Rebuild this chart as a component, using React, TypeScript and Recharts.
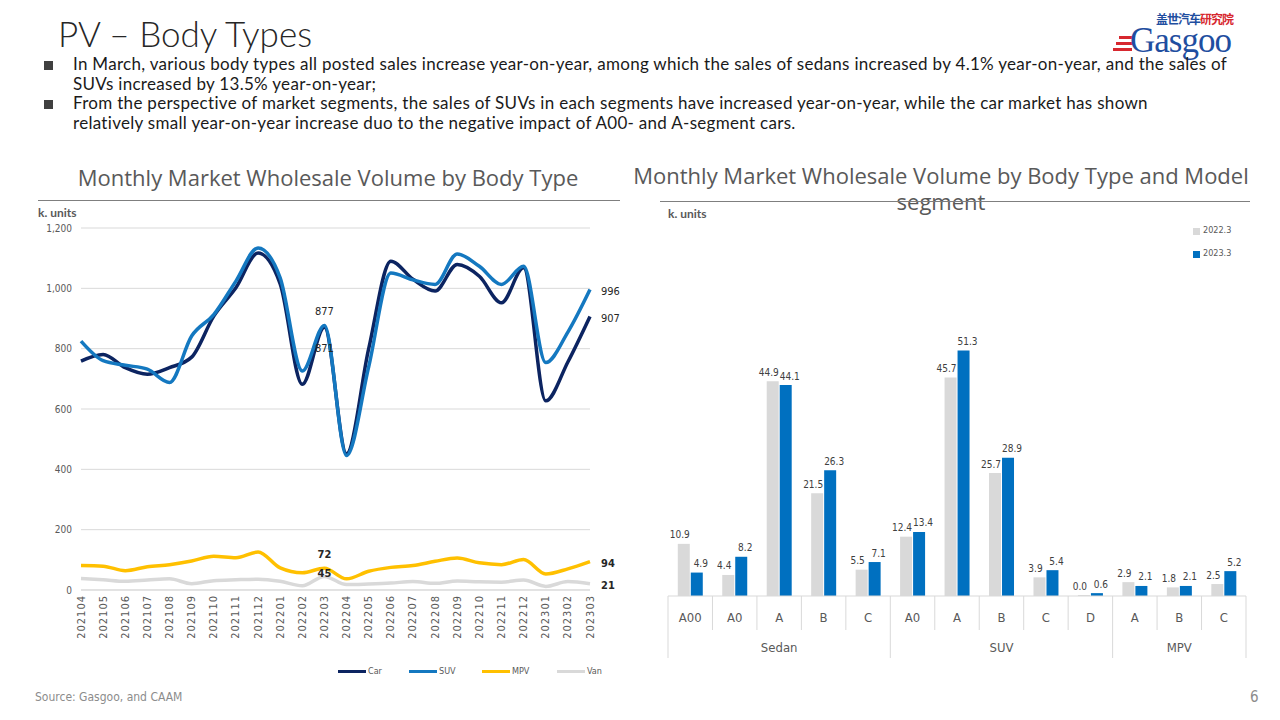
import React from "react";
import {
  LineChart,
  Line,
  BarChart,
  Bar,
  XAxis,
  YAxis,
  CartesianGrid,
  LabelList,
} from "recharts";

// ---- monthly wholesale volume (k units) ----
const months = [
  "202104", "202105", "202106", "202107", "202108", "202109", "202110", "202111",
  "202112", "202201", "202202", "202203", "202204", "202205", "202206", "202207",
  "202208", "202209", "202210", "202211", "202212", "202301", "202302", "202303",
];
const carVolume = [759, 781, 737, 715, 737, 772, 908, 1002, 1117, 1015, 682, 871, 452, 800, 1090, 1030, 991, 1079, 1040, 952, 1068, 627, 756, 907];
const suvVolume = [825, 760, 745, 732, 688, 842, 913, 1024, 1134, 1035, 726, 877, 446, 740, 1051, 1028, 1013, 1114, 1073, 1013, 1073, 754, 855, 996];
const mpvVolume = [81, 79, 64, 77, 84, 96, 112, 107, 126, 73, 57, 72, 37, 62, 75, 81, 95, 106, 90, 84, 101, 53, 70, 94];
const vanVolume = [38, 34, 29, 33, 37, 21, 31, 34, 36, 29, 14, 45, 18, 20, 23, 28, 22, 30, 27, 26, 33, 12, 28, 21];
const volumeTicks = [0, 200, 400, 600, 800, 1000, 1200];

// ---- body type x model segment (k units) ----
const segments = ["A00", "A0", "A", "B", "C", "A0", "A", "B", "C", "D", "A", "B", "C"];
const bodyGroups = ["Sedan", "Sedan", "Sedan", "Sedan", "Sedan", "SUV", "SUV", "SUV", "SUV", "SUV", "MPV", "MPV", "MPV"];
const march2022 = [10.9, 4.4, 44.9, 21.5, 5.5, 12.4, 45.7, 25.7, 3.9, 0.0, 2.9, 1.8, 2.5];
const march2023 = [4.9, 8.2, 44.1, 26.3, 7.1, 13.4, 51.3, 28.9, 5.4, 0.6, 2.1, 2.1, 5.2];

const CAR = "#0c2461";
const SUV = "#1478c0";
const MPV = "#ffc000";
const VAN = "#d9d9d9";
const GRAY22 = "#d9d9d9";
const BLUE23 = "#0070c0";

const narrow = "'Liberation Sans Narrow', 'DejaVu Sans Condensed', Lato, sans-serif";
const textGray = "#595959";

const lineData = months.map((m, i) => ({
  month: m,
  car: carVolume[i],
  suv: suvVolume[i],
  mpv: mpvVolume[i],
  van: vanVolume[i],
}));

const barData = segments.map((s, i) => ({
  key: `${bodyGroups[i]}-${s}`,
  y2022: march2022[i],
  y2023: march2023[i],
}));

const groupMiddle = new Set<number>();
const groupStart = new Set<number>();
bodyGroups.forEach((g, i) => {
  if (i === 0 || bodyGroups[i - 1] !== g) groupStart.add(i);
});
[...new Set(bodyGroups)].forEach((g) => {
  const idx = bodyGroups.map((b, i) => (b === g ? i : -1)).filter((i) => i >= 0);
  groupMiddle.add(idx[Math.floor(idx.length / 2)]);
});

const MonthTick = ({ x, y, payload }: any) => (
  <text
    x={x}
    y={y + 5}
    transform={`rotate(-90 ${x} ${y + 5})`}
    textAnchor="end"
    dominantBaseline="central"
    fontSize={11}
    letterSpacing={1}
    fill={textGray}
    fontFamily={narrow}
  >
    {payload.value}
  </text>
);

// point labels only at chosen months
const pointLabel =
  (indexes: number[], place: "above" | "below" | "right" | "on", bold = false) =>
  (props: any) => {
    const { index, value } = props;
    if (!indexes.includes(index)) return null;
    const x = props.x ?? props.viewBox?.x;
    const y = props.y ?? props.viewBox?.y;
    let tx = x;
    let ty = y;
    let anchor: "middle" | "start" = "middle";
    if (place === "above") ty = y - 14;
    if (place === "below") ty = y + 21;
    if (place === "on") ty = y - 3;
    if (place === "right") {
      tx = x + 11;
      ty = y + 2;
      anchor = "start";
    }
    return (
      <text
        x={tx}
        y={ty}
        textAnchor={anchor}
        dominantBaseline="central"
        fontSize={11}
        fontWeight={bold ? 700 : 400}
        fill="#262626"
        fontFamily={narrow}
      >
        {value}
      </text>
    );
  };

// bar value labels, nudged sideways like the original
const barLabel = (dx: number) => (props: any) => {
  const { x, y, width, value } = props;
  return (
    <text
      x={x + width / 2 + dx}
      y={y - 9}
      textAnchor="middle"
      dominantBaseline="central"
      fontSize={10}
      fill="#404040"
      fontFamily={narrow}
    >
      {Number(value).toFixed(1)}
    </text>
  );
};

const barW = 620;
const barMargin = { top: 104, right: 14, bottom: 9, left: 28 };
const band = (barW - barMargin.left - barMargin.right) / segments.length;

const SegmentTick = ({ x, y, payload }: any) => {
  const i = payload.index;
  const left = x - band / 2;
  const full = 62;
  return (
    <g fontFamily={narrow} fill={textGray} fontSize={13}>
      <line x1={left} x2={left} y1={y} y2={y + (groupStart.has(i) ? full : 34)} stroke={GRAY22} />
      {i === segments.length - 1 && (
        <line x1={x + band / 2} x2={x + band / 2} y1={y} y2={y + full} stroke={GRAY22} />
      )}
      <text x={x} y={y + 21} textAnchor="middle" dominantBaseline="central">
        {segments[i]}
      </text>
      {groupMiddle.has(i) && (
        <text x={x} y={y + 51} textAnchor="middle" dominantBaseline="central">
          {bodyGroups[i]}
        </text>
      )}
    </g>
  );
};

const abs = (left: number, top: number, extra: React.CSSProperties = {}): React.CSSProperties => ({
  position: "absolute",
  left,
  top,
  whiteSpace: "nowrap",
  ...extra,
});

const bullets = [
  [
    "In March, various body types all posted sales increase year-on-year, among which the sales of sedans increased by 4.1% year-on-year, and the sales of",
    "SUVs increased by 13.5% year-on-year;",
  ],
  [
    "From the perspective of market segments,  the sales of SUVs in each segments have increased year-on-year,  while  the car market has shown",
    "relatively small year-on-year increase duo to the negative impact of A00- and A-segment cars.",
  ],
];

const lineLegend = [
  { name: "Car", color: CAR, left: 338 },
  { name: "SUV", color: SUV, left: 409 },
  { name: "MPV", color: MPV, left: 482 },
  { name: "Van", color: VAN, left: 557 },
];

export default function App() {
  return (
    <div
      style={{
        position: "absolute",
        left: 0,
        top: 0,
        width: 1280,
        height: 720,
        background: "#fff",
        overflow: "hidden",
        fontFamily: "Lato, sans-serif",
        color: "#262626",
      }}
    >
      {/* header */}
      <div style={abs(58, 12, { fontSize: 35, fontWeight: 300, color: "#262626" })}>PV – Body Types</div>

      <div style={abs(1156, 12, { fontSize: 12, fontWeight: 700, fontFamily: "'Noto Sans CJK SC', sans-serif", letterSpacing: -1, lineHeight: "14px" })}>
        <span style={{ color: "#1f4ea0" }}>盖世汽车</span>
        <span style={{ color: "#d7282f" }}>研究院</span>
      </div>
      <div style={abs(1119, 36, { width: 15, height: 3, background: "#d7282f" })} />
      <div style={abs(1116, 42, { width: 17, height: 3, background: "#d7282f" })} />
      <div style={abs(1113, 48, { width: 19, height: 3, background: "#d7282f" })} />
      <div style={abs(1130, 28, { fontSize: 35, lineHeight: "26px", fontFamily: "'Liberation Serif', serif", color: "#1f4ea0", letterSpacing: -1 })}>
        Gasgoo
      </div>

      {bullets.map((lines, b) =>
        lines.map((t, l) => {
          const top = 57 + b * 39 + l * 20;
          return (
            <React.Fragment key={`${b}-${l}`}>
              {l === 0 && <div style={abs(44, top + 4, { width: 9, height: 9, background: "#404040" })} />}
              <div style={abs(73, top - 3, { fontSize: 17, letterSpacing: 0.3, lineHeight: "20px", color: "#1a1a1a" })}>{t}</div>
            </React.Fragment>
          );
        }),
      )}

      {/* left chart frame */}
      <div style={abs(28, 162, { width: 600, textAlign: "center", fontSize: 22, fontFamily: "'Open Sans', sans-serif", color: textGray })}>
        Monthly Market Wholesale Volume by Body Type
      </div>
      <div style={abs(38, 200, { width: 582, height: 1, background: "#7f7f7f" })} />
      <div style={abs(38, 205, { fontSize: 12, fontWeight: 700, color: textGray })}>k. units</div>

      <div style={abs(20, 210)}>
        <LineChart width={600} height={450} data={lineData} margin={{ top: 18, right: 30, bottom: 15, left: 0 }}>
          <CartesianGrid vertical={false} stroke="#d9d9d9" />
          <XAxis
            dataKey="month"
            interval={0}
            tick={<MonthTick />}
            tickLine={false}
            tickSize={0}
            tickMargin={0}
            height={55}
            axisLine={{ stroke: "#d9d9d9" }}
          />
          <YAxis
            width={61}
            domain={[0, 1200]}
            ticks={volumeTicks}
            axisLine={false}
            tickLine={false}
            tickMargin={3}
            tickFormatter={(v: number) => v.toLocaleString("en-US")}
            tick={{ fontSize: 10, fill: textGray, fontFamily: narrow }}
          />
          <Line type="monotone" dataKey="van" stroke={VAN} strokeWidth={3.5} dot={false} isAnimationActive={false}>
            <LabelList dataKey="van" content={pointLabel([11], "on", true)} />
            <LabelList dataKey="van" content={pointLabel([23], "right", true)} />
          </Line>
          <Line type="monotone" dataKey="mpv" stroke={MPV} strokeWidth={3.5} dot={false} isAnimationActive={false}>
            <LabelList dataKey="mpv" content={pointLabel([11], "above", true)} />
            <LabelList dataKey="mpv" content={pointLabel([23], "right", true)} />
          </Line>
          <Line type="monotone" dataKey="car" stroke={CAR} strokeWidth={3.5} dot={false} isAnimationActive={false}>
            <LabelList dataKey="car" content={pointLabel([11], "below")} />
            <LabelList dataKey="car" content={pointLabel([23], "right")} />
          </Line>
          <Line type="monotone" dataKey="suv" stroke={SUV} strokeWidth={3.5} dot={false} isAnimationActive={false}>
            <LabelList dataKey="suv" content={pointLabel([11], "above")} />
            <LabelList dataKey="suv" content={pointLabel([23], "right")} />
          </Line>
        </LineChart>
      </div>

      {lineLegend.map((it) => (
        <div key={it.name} style={abs(it.left, 666, { display: "flex", alignItems: "center", fontSize: 9, color: textGray, fontFamily: narrow })}>
          <span style={{ display: "inline-block", width: 28, height: 3, background: it.color, marginRight: 2 }} />
          {it.name}
        </div>
      ))}

      {/* right chart frame */}
      <div style={abs(621, 162, { width: 640, textAlign: "center", fontSize: 22, lineHeight: "26px", fontFamily: "'Open Sans', sans-serif", color: textGray, whiteSpace: "normal" })}>
        Monthly Market Wholesale Volume by Body Type and Model segment
      </div>
      <div style={abs(660, 201, { width: 590, height: 1, background: "#7f7f7f" })} />
      <div style={abs(668, 206, { fontSize: 12, fontWeight: 700, color: textGray })}>k. units</div>

      <div style={abs(1193, 228, { width: 7, height: 7, background: GRAY22 })} />
      <div style={abs(1203, 225, { fontSize: 9, color: textGray, fontFamily: narrow })}>2022.3</div>
      <div style={abs(1193, 251, { width: 7, height: 7, background: BLUE23 })} />
      <div style={abs(1203, 248, { fontSize: 9, color: textGray, fontFamily: narrow })}>2023.3</div>

      <div style={abs(640, 205)}>
        <BarChart width={barW} height={465} data={barData} margin={barMargin} barCategoryGap="22%" barGap={1}>
          <XAxis
            dataKey="key"
            interval={0}
            tick={<SegmentTick />}
            tickLine={false}
            tickSize={0}
            tickMargin={0}
            height={65}
            axisLine={{ stroke: "#d9d9d9" }}
          />
          <YAxis hide domain={[0, 60]} />
          <Bar dataKey="y2022" fill={GRAY22} minPointSize={1} isAnimationActive={false}>
            <LabelList dataKey="y2022" content={barLabel(-4)} />
          </Bar>
          <Bar dataKey="y2023" fill={BLUE23} isAnimationActive={false}>
            <LabelList dataKey="y2023" content={barLabel(4)} />
          </Bar>
        </BarChart>
      </div>

      {/* footer */}
      <div style={abs(35, 690, { fontSize: 12, color: "#8c8c8c", fontFamily: narrow })}>Source: Gasgoo, and CAAM</div>
      <div style={abs(1250, 688, { fontSize: 15, color: "#8c8c8c", fontFamily: narrow })}>6</div>
    </div>
  );
}
